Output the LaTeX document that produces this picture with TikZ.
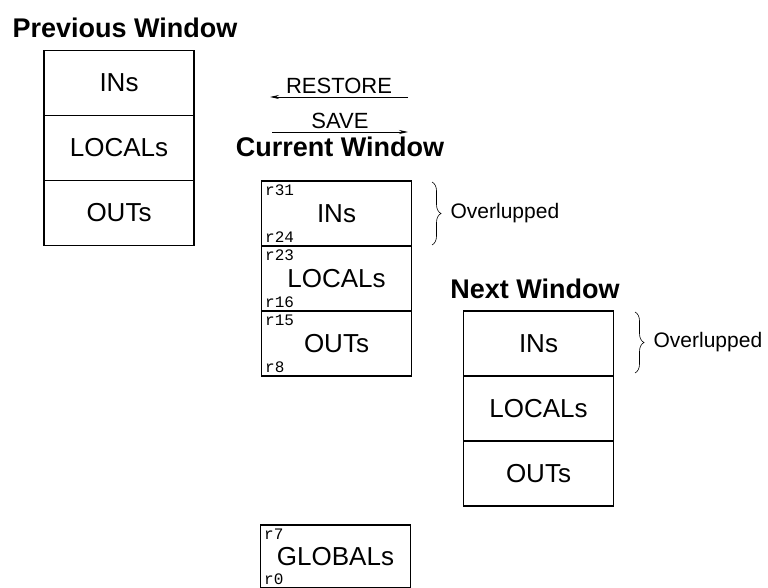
\documentclass[tikz,border=0pt]{standalone}
\usepackage{fontspec}
\setmainfont{Liberation Sans}
\setmonofont{Liberation Mono}
\usetikzlibrary{positioning,arrows.meta,decorations.pathreplacing}

\tikzset{
  win/.style={draw, line width=1.6pt, minimum width=150pt, minimum height=65pt,
    inner sep=0pt, outer sep=0pt, font=\fontsize{26}{26}\selectfont},
  wtitle/.style={font=\fontsize{27}{27}\selectfont\bfseries},
  regno/.style={font=\fontsize{16}{16}\selectfont\ttfamily, inner sep=3.5pt},
  op/.style={-{Stealth[length=9pt,width=4pt]}, line width=0.8pt},
  oplabel/.style={font=\fontsize{22}{22}\selectfont},
  brc/.style={decorate, decoration={brace, amplitude=9pt}, line width=0.6pt},
  ovl/.style={font=\fontsize{21}{21}\selectfont}
}

\begin{document}
\begin{tikzpicture}[x=1pt,y=1pt]
\useasboundingbox (0,0) rectangle (768,587);
\clip (0,0) rectangle (768,587);

% ===== Titles =====
\node[wtitle] (prevT) at (125,559) {Previous Window};
\node[wtitle] (curT) at (340,440) {Current Window};
\node[wtitle] (nextT) at (535,298) {Next Window};

% ===== Windows =====
\node[win] (prevIn) at (119,504) {INs};
\node[win, below=0pt of prevIn] (prevLoc) {LOCALs};
\node[win, below=0pt of prevLoc] (prevOut) {OUTs};

\node[win] (curIn) at (336.5,373.5) {INs};
\node[win, below=0pt of curIn] (curLoc) {LOCALs};
\node[win, below=0pt of curLoc] (curOut) {OUTs};

\node[win] (nextIn) at (538.5,243.5) {INs};
\node[win, below=0pt of nextIn] (nextLoc) {LOCALs};
\node[win, below=0pt of nextLoc] (nextOut) {OUTs};

\node[win, minimum height=63pt] (glob) at (335.5,30.5) {GLOBALs};

% ===== Register numbers =====
\foreach \row/\hi/\lo in {curIn/r31/r24, curLoc/r23/r16, curOut/r15/r8, glob/r7/r0} {
    \node[regno, anchor=north west] (\hi) at (\row.north west) {\hi};
    \node[regno, anchor=south west] (\lo) at (\row.south west) {\lo};
}

% ===== RESTORE / SAVE =====
\coordinate (restA) at (408,490);
\coordinate (restB) at (270,490);
\draw[op] (restA) -- node[oplabel, above] (restL) {RESTORE} (restB);

\coordinate (saveA) at (272,455);
\coordinate (saveB) at (408,455);
\draw[op] (saveA) -- node[oplabel, above] (saveL) {SAVE} (saveB);

% ===== Overlaps =====
\coordinate (ovA) at (432,405);
\coordinate (ovB) at (432,342);
\draw[brc] (ovA) -- node[ovl, right=15pt] (ovL) {Overlupped} (ovB);

\coordinate (ovC) at (635,275);
\coordinate (ovD) at (635,214);
\draw[brc] (ovC) -- node[ovl, right=15pt] (ovM) {Overlupped} (ovD);

\end{tikzpicture}
\end{document}
